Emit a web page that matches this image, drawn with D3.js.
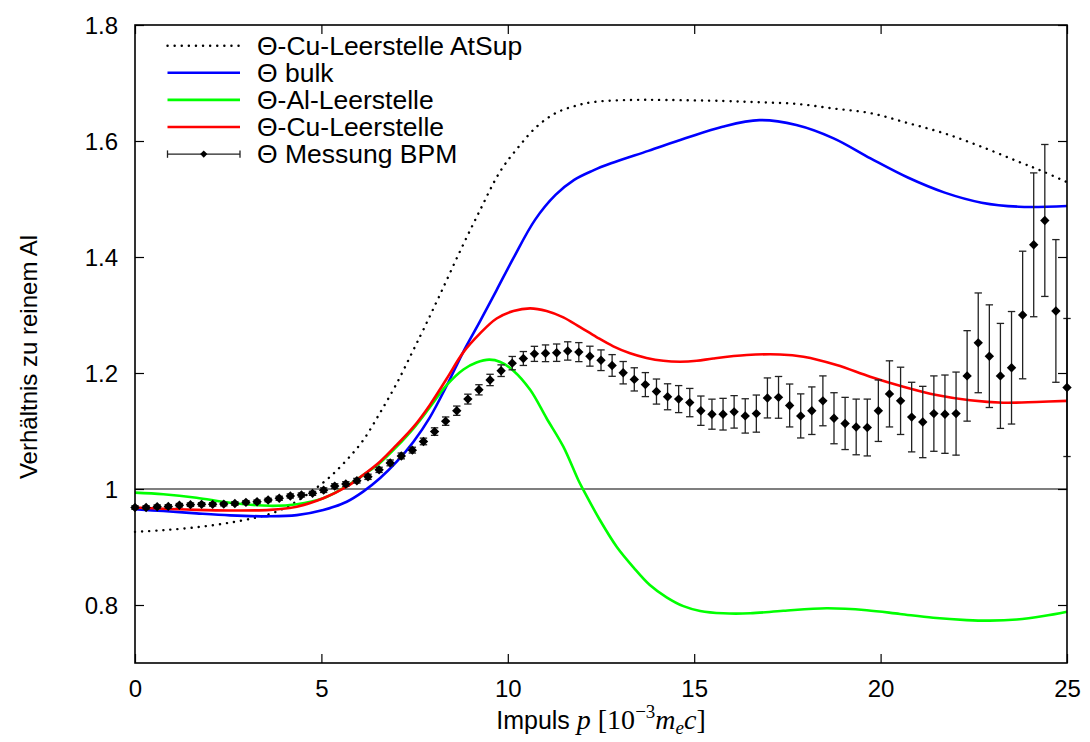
<!DOCTYPE html>
<html><head><meta charset="utf-8">
<script src="https://cdn.jsdelivr.net/npm/d3@7"></script>
<style>
html,body{margin:0;padding:0;background:#fff;}
svg{display:block;}
</style></head>
<body>
<svg id="chart" width="1090" height="742"></svg>
<script>
// ---------- data ----------
const xTicks = [0, 5, 10, 15, 20, 25];
const yTicks = [0.8, 1, 1.2, 1.4, 1.6, 1.8];

const atsupP = [0, 0.76, 1.65, 2.55, 3.26, 3.71, 4.16, 4.78, 5.23, 5.68, 6.12, 6.57, 7.02, 7.47, 7.73, 8.18, 8.72, 9.25, 9.79, 10.29, 10.78, 11.28, 11.78, 12.28, 13.27, 14.26, 15.76, 16.75, 17.74, 18.74, 19.73, 20.73, 21.72, 22.71, 23.71, 24.30, 25];
const atsupV = [0.926, 0.929, 0.934, 0.942, 0.951, 0.959, 0.972, 0.998, 1.021, 1.050, 1.084, 1.131, 1.182, 1.240, 1.274, 1.335, 1.410, 1.480, 1.547, 1.590, 1.625, 1.648, 1.660, 1.667, 1.6707, 1.6707, 1.669, 1.6667, 1.664, 1.656, 1.648, 1.631, 1.613, 1.590, 1.564, 1.549, 1.529];

const bulkP = [0, 0.76, 1.65, 2.55, 3.62, 4.34, 5.05, 5.68, 6.12, 6.57, 7.02, 7.47, 7.91, 8.36, 8.81, 9.25, 9.70, 10.15, 10.73, 11.28, 11.78, 12.28, 12.77, 13.77, 14.76, 15.76, 16.75, 17.74, 18.74, 19.73, 20.73, 21.72, 22.71, 23.71, 25];
const bulkV = [0.965, 0.962, 0.958, 0.9546, 0.9529, 0.955, 0.9638, 0.978, 0.9954, 1.0184, 1.047, 1.0816, 1.1236, 1.1780, 1.237, 1.2885, 1.343, 1.398, 1.464, 1.507, 1.533, 1.549, 1.5615, 1.583, 1.6046, 1.6247, 1.636, 1.6276, 1.6046, 1.570, 1.537, 1.511, 1.4937, 1.4867, 1.488];

const alP = [0, 0.76, 1.65, 2.55, 3.62, 4.34, 5.05, 5.68, 6.12, 6.57, 7.02, 7.47, 7.91, 8.36, 8.81, 9.16, 9.50, 9.80, 10.15, 10.60, 11.04, 11.49, 11.89, 12.03, 12.47, 12.92, 13.37, 13.81, 14.26, 14.71, 15.16, 15.78, 16.50, 17.39, 18.55, 19.63, 20.52, 21.41, 22.31, 22.93, 23.65, 24.37, 25];
const alV = [0.9937, 0.991, 0.985, 0.9764, 0.971, 0.9736, 0.984, 1.005, 1.024, 1.045, 1.073, 1.1046, 1.141, 1.179, 1.206, 1.218, 1.223, 1.219, 1.204, 1.171, 1.122, 1.073, 1.0155, 0.998, 0.9466, 0.9005, 0.865, 0.8345, 0.8133, 0.798, 0.7897, 0.7857, 0.7857, 0.790, 0.7943, 0.791, 0.7845, 0.778, 0.774, 0.773, 0.775, 0.781, 0.7885];

const cuP = [0, 0.76, 1.65, 2.55, 3.62, 4.34, 5.05, 5.68, 6.12, 6.57, 7.02, 7.47, 7.91, 8.36, 8.81, 9.25, 9.70, 10.15, 10.60, 11.04, 11.49, 11.94, 12.38, 12.83, 13.28, 13.72, 14.17, 14.62, 15.07, 15.51, 16.41, 17.30, 17.93, 18.82, 19.72, 20.61, 21.50, 22.40, 23.29, 24.18, 25];
const cuV = [0.968, 0.966, 0.964, 0.963, 0.964, 0.9695, 0.984, 1.004, 1.024, 1.047, 1.076, 1.107, 1.145, 1.190, 1.236, 1.268, 1.294, 1.307, 1.3115, 1.307, 1.296, 1.279, 1.262, 1.246, 1.234, 1.226, 1.221, 1.2195, 1.221, 1.225, 1.231, 1.232, 1.228, 1.2138, 1.1937, 1.1764, 1.162, 1.153, 1.1488, 1.150, 1.152];

const measP = [0, 0.298, 0.595, 0.893, 1.190, 1.488, 1.786, 2.083, 2.381, 2.679, 2.976, 3.274, 3.571, 3.869, 4.167, 4.464, 4.762, 5.060, 5.357, 5.655, 5.952, 6.250, 6.548, 6.845, 7.143, 7.440, 7.738, 8.036, 8.333, 8.631, 8.929, 9.226, 9.524, 9.821, 10.119, 10.417, 10.714, 11.012, 11.310, 11.607, 11.905, 12.202, 12.500, 12.798, 13.095, 13.393, 13.690, 13.988, 14.286, 14.583, 14.881, 15.179, 15.476, 15.774, 16.071, 16.369, 16.667, 16.964, 17.262, 17.560, 17.857, 18.155, 18.452, 18.750, 19.048, 19.345, 19.643, 19.940, 20.238, 20.536, 20.833, 21.131, 21.429, 21.726, 22.024, 22.321, 22.619, 22.917, 23.214, 23.512, 23.810, 24.107, 24.405, 24.702, 25.000];
const measV = [0.968, 0.968, 0.9695, 0.970, 0.972, 0.973, 0.9735, 0.9735, 0.974, 0.975, 0.977, 0.978, 0.981, 0.984, 0.988, 0.9897, 0.9925, 0.998, 1.005, 1.0086, 1.0143, 1.021, 1.033, 1.045, 1.057, 1.067, 1.082, 1.099, 1.117, 1.135, 1.155, 1.171, 1.188, 1.204, 1.217, 1.225, 1.233, 1.234, 1.235, 1.238, 1.236, 1.229, 1.222, 1.213, 1.2005, 1.189, 1.180, 1.168, 1.159, 1.155, 1.149, 1.135, 1.129, 1.129, 1.133, 1.126, 1.130, 1.157, 1.158, 1.144, 1.126, 1.135, 1.152, 1.122, 1.113, 1.107, 1.106, 1.135, 1.164, 1.152, 1.124, 1.1155, 1.130, 1.129, 1.130, 1.195, 1.252, 1.229, 1.195, 1.209, 1.300, 1.421, 1.463, 1.307, 1.175];
const measErr = [0.003, 0.003, 0.003, 0.003, 0.003, 0.003, 0.003, 0.003, 0.003, 0.003, 0.003, 0.003, 0.003, 0.0035, 0.0035, 0.0035, 0.0035, 0.004, 0.004, 0.004, 0.004, 0.0045, 0.0045, 0.005, 0.005, 0.005, 0.0057, 0.0065, 0.0072, 0.008, 0.0085, 0.0088, 0.0098, 0.010, 0.0115, 0.012, 0.013, 0.0144, 0.015, 0.0158, 0.0164, 0.0172, 0.0178, 0.0187, 0.0193, 0.020, 0.0207, 0.0216, 0.0224, 0.0233, 0.0244, 0.0253, 0.0259, 0.0273, 0.028, 0.0296, 0.032, 0.0345, 0.036, 0.037, 0.038, 0.041, 0.043, 0.044, 0.045, 0.048, 0.049, 0.053, 0.057, 0.058, 0.060, 0.0615, 0.065, 0.0675, 0.0716, 0.078, 0.086, 0.0885, 0.0905, 0.097, 0.110, 0.124, 0.131, 0.123, 0.119];

const legendLabels = ["\u0398-Cu-Leerstelle AtSup", "\u0398 bulk", "\u0398-Al-Leerstelle", "\u0398-Cu-Leerstelle", "\u0398 Messung BPM"];

// ---------- layout ----------
const W = 1090, H = 742;
const m = {left: 135, right: 23, top: 25, bottom: 79};
const FONT = "'Liberation Sans', Arial, Helvetica, sans-serif";
const FS = 24;
const LFS = 26.5;

const svg = d3.select("#chart");
const x = d3.scaleLinear().domain([0, 25]).range([m.left, W - m.right]);
const y = d3.scaleLinear().domain([0.7, 1.8]).range([H - m.bottom, m.top]);

const g = svg.append("g");

// reference line at 1
g.append("line")
  .attr("x1", x(0)).attr("x2", x(25)).attr("y1", y(1)).attr("y2", y(1))
  .attr("stroke", "#000").attr("stroke-width", 1.2);

// axes (ticks inward, mirrored)
const tickLen = 9;
const axB = d3.axisBottom(x).tickValues(xTicks).tickSize(-tickLen).tickPadding(17).tickFormat(d3.format("d"));
const axT = d3.axisTop(x).tickValues(xTicks).tickSize(-tickLen).tickFormat("");
const axL = d3.axisLeft(y).tickValues(yTicks).tickSize(-tickLen).tickPadding(17).tickFormat(d3.format("~g"));
const axR = d3.axisRight(y).tickValues(yTicks).tickSize(-tickLen).tickFormat("");

function styleAxis(sel) {
  sel.select(".domain").remove();
  sel.selectAll(".tick line").attr("stroke", "#000").attr("stroke-width", 1.2);
  sel.selectAll(".tick text").attr("fill", "#000").style("font-family", FONT).style("font-size", FS + "px");
}
g.append("g").attr("transform", `translate(0,${H - m.bottom})`).call(axB).call(styleAxis);
g.append("g").attr("transform", `translate(0,${m.top})`).call(axT).call(styleAxis);
g.append("g").attr("transform", `translate(${m.left},0)`).call(axL).call(styleAxis)
  .selectAll(".tick text").attr("dy", "0.36em");
g.append("g").attr("transform", `translate(${W - m.right},0)`).call(axR).call(styleAxis);

// curves
const line = d3.line().x(d => x(d[0])).y(d => y(d[1])).curve(d3.curveCatmullRom.alpha(0.5));
const zip = (a, b) => a.map((v, i) => [v, b[i]]);

const series = [
  {p: atsupP, v: atsupV, color: "#000", width: 2.4, dash: "0.1,7", cap: "round"},
  {p: bulkP, v: bulkV, color: "#0000ff", width: 2.6},
  {p: alP, v: alV, color: "#00ff00", width: 2.6},
  {p: cuP, v: cuV, color: "#ff0000", width: 2.6}
];
series.forEach(s => {
  g.append("path").datum(zip(s.p, s.v)).attr("d", line)
    .attr("fill", "none").attr("stroke", s.color).attr("stroke-width", s.width)
    .attr("stroke-dasharray", s.dash || null).attr("stroke-linecap", s.cap || "butt");
});

// measurement error bars and diamonds
const meas = measP.map((p, i) => ({p, v: measV[i], e: measErr[i]}));
const capW = 3.7, dR = 4.7;
const EBC = "#222";
const eb = g.append("g").attr("stroke", EBC).attr("stroke-width", 1.3);
meas.forEach(d => {
  const cx = x(d.p), y1 = y(d.v + d.e), y2 = y(d.v - d.e);
  eb.append("line").attr("x1", cx).attr("x2", cx).attr("y1", y1).attr("y2", y2);
  eb.append("line").attr("x1", cx - capW).attr("x2", cx + capW).attr("y1", y1).attr("y2", y1);
  eb.append("line").attr("x1", cx - capW).attr("x2", cx + capW).attr("y1", y2).attr("y2", y2);
});
const diamond = (cx, cy, r) => `M${cx},${cy - r}L${cx + r},${cy}L${cx},${cy + r}L${cx - r},${cy}Z`;
g.append("g").selectAll("path").data(meas).join("path")
  .attr("d", d => diamond(x(d.p), y(d.v), dR)).attr("fill", "#000");

// frame
g.append("rect").attr("x", m.left).attr("y", m.top)
  .attr("width", W - m.left - m.right).attr("height", H - m.top - m.bottom)
  .attr("fill", "none").attr("stroke", "#000").attr("stroke-width", 1.6);

// legend
const lg = svg.append("g");
const lx1 = 167.5, lx2 = 240, ltx = 257, ly0 = 45.7, lstep = 27.1;
legendLabels.forEach((lab, i) => {
  const yy = ly0 + i * lstep;
  if (i < 4) {
    const s = series[i];
    lg.append("line").attr("x1", lx1).attr("x2", lx2).attr("y1", yy).attr("y2", yy)
      .attr("stroke", s.color).attr("stroke-width", s.width)
      .attr("stroke-dasharray", s.dash || null).attr("stroke-linecap", s.cap || "butt");
  } else {
    const lw = 1.3;
    lg.append("line").attr("x1", lx1).attr("x2", lx2).attr("y1", yy).attr("y2", yy).attr("stroke", EBC).attr("stroke-width", lw);
    lg.append("line").attr("x1", lx1).attr("x2", lx1).attr("y1", yy - capW).attr("y2", yy + capW).attr("stroke", EBC).attr("stroke-width", lw);
    lg.append("line").attr("x1", lx2).attr("x2", lx2).attr("y1", yy - capW).attr("y2", yy + capW).attr("stroke", EBC).attr("stroke-width", lw);
    lg.append("path").attr("d", diamond((lx1 + lx2) / 2, yy, 3.6)).attr("fill", "#000");
  }
  lg.append("text").attr("x", ltx).attr("y", yy).attr("dy", "0.34em")
    .style("font-family", FONT).style("font-size", LFS + "px").attr("fill", "#000").text(lab);
});

// y label
svg.append("text")
  .attr("transform", `translate(28,357) rotate(-90)`)
  .attr("text-anchor", "middle").attr("dy", "0.36em")
  .style("font-family", FONT).style("font-size", FS + "px").text("Verhältnis zu reinem Al");

// x label
const MATH = "'Liberation Serif', 'DejaVu Serif', serif";
const xl = svg.append("text")
  .attr("x", (m.left + W - m.right) / 2).attr("y", 729)
  .attr("text-anchor", "middle").style("font-family", FONT).style("font-size", "25px");
xl.append("tspan").text("Impuls ");
xl.append("tspan").style("font-family", MATH).style("font-style", "italic").style("font-size", "28px").text("p");
xl.append("tspan").style("font-family", MATH).style("font-size", "28px").text(" [10");
xl.append("tspan").style("font-family", MATH).style("font-size", "19px").attr("dy", -11).text("\u22123");
xl.append("tspan").style("font-family", MATH).style("font-style", "italic").style("font-size", "28px").attr("dy", 11).text("m");
xl.append("tspan").style("font-family", MATH).style("font-style", "italic").style("font-size", "19px").attr("dy", 5).text("e");
xl.append("tspan").style("font-family", MATH).style("font-style", "italic").style("font-size", "28px").attr("dy", -5).text("c");
xl.append("tspan").style("font-family", MATH).style("font-size", "28px").text("]");
</script>
</body></html>
